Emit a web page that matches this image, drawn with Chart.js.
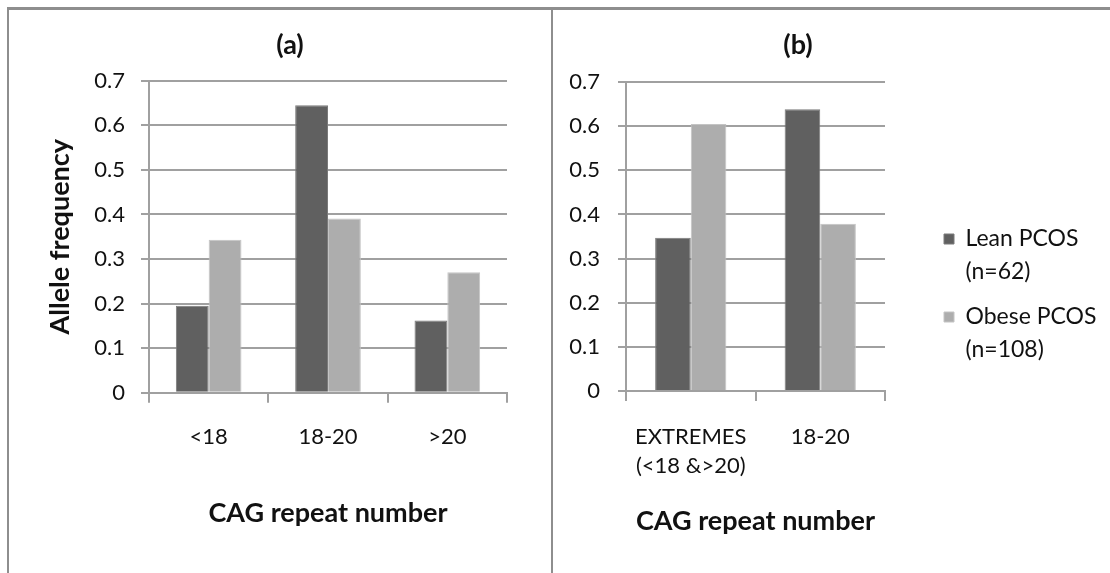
<!DOCTYPE html>
<html>
<head>
<meta charset="utf-8">
<script src="https://cdn.jsdelivr.net/npm/chart.js@4.4.1/dist/chart.umd.min.js"></script>
<style>
  html, body { margin: 0; padding: 0; background: #ffffff; }
  body { width: 1110px; height: 573px; position: relative; overflow: hidden; }
  .rule { position: absolute; background: #8e8e8e; }
  .frame-top { left: 7px; top: 7px; width: 1103px; height: 3px; }
  .frame-left { left: 7px; top: 7px; width: 2px; height: 566px; }
  .divider { left: 551px; top: 10px; width: 2px; height: 563px; }
  canvas { position: absolute; }
  #chartA { left: 12px; top: 10px; }
  #chartB { left: 556px; top: 10px; }
</style>
</head>
<body>
<div class="rule frame-top"></div>
<div class="rule frame-left"></div>
<div class="rule divider"></div>
<canvas id="chartA" width="540" height="560"></canvas>
<canvas id="chartB" width="554" height="560"></canvas>
<script>
// Series
const seriesNames = ['Lean PCOS', 'Obese PCOS'];
const groupSizes = ['(n=62)', '(n=108)'];
const seriesColors = ['#606060', '#adadad'];
const seriesEdges = ['#7a7a7a', '#c4c4c4'];

// Panel (a): three CAG repeat classes
const categoriesA = ['<18', '18-20', '>20'];
const leanA = [0.195, 0.645, 0.162];
const obeseA = [0.343, 0.391, 0.270];

// Panel (b): extremes pooled against the 18-20 class
const categoriesB = [['EXTREMES', '(<18 &>20)'], '18-20'];
const leanB = [0.347, 0.638];
const obeseB = [0.605, 0.379];

// Value axis
const yTickLabels = ['0', '0.1', '0.2', '0.3', '0.4', '0.5', '0.6', '0.7'];
const yMin = 0, yMax = 0.7, yStep = 0.1;

const FONT = 'Lato';
const TEXT = '#111111';
const GRID = '#a0a0a0';
const tickFont = { family: FONT, size: 22, lineHeight: 1.33 };
const boldFont = { family: FONT, size: 27, weight: 'bold', lineHeight: 1.2 };

// Panel heading drawn at a fixed spot on each canvas
const panelTitle = {
  id: 'panelTitle',
  afterDraw(chart, _args, opts) {
    const ctx = chart.ctx;
    ctx.save();
    ctx.font = `bold ${opts.size}px ${FONT}`;
    ctx.fillStyle = TEXT;
    ctx.textAlign = 'center';
    ctx.textBaseline = 'middle';
    ctx.fillText(opts.text, opts.x, opts.y);
    ctx.restore();
  }
};

function makeDatasets(lean, obese) {
  return [lean, obese].map((vals, i) => ({
    label: seriesNames[i] + ' ' + groupSizes[i],
    data: vals,
    backgroundColor: seriesColors[i],
    borderColor: seriesEdges[i],
    borderWidth: 1,
    categoryPercentage: 0.55,
    barPercentage: 1.0
  }));
}

function valueAxis(opts) {
  return {
    min: yMin,
    max: yMax,
    ticks: {
      stepSize: yStep,
      padding: opts.tickPad,
      color: TEXT,
      font: tickFont,
      callback: (v, i) => yTickLabels[i]
    },
    grid: { color: GRID, lineWidth: 2, tickLength: 8 },
    border: { color: GRID, width: 2 },
    title: opts.title,
    afterFit: s => { s.width = opts.width; }
  };
}

function categoryAxis(opts) {
  return {
    ticks: { padding: opts.tickPad, color: TEXT, font: tickFont, maxRotation: 0, autoSkip: false },
    grid: { offset: true, drawOnChartArea: false, color: GRID, lineWidth: 2, tickLength: 10 },
    border: { color: GRID, width: 2 },
    title: {
      display: true,
      text: 'CAG repeat number',
      color: TEXT,
      font: boldFont,
      padding: { top: 0, bottom: opts.titlePad }
    },
    afterFit: s => { s.height = opts.height; }
  };
}

const common = {
  responsive: false,
  animation: false,
  devicePixelRatio: 1,
  events: []
};

// Panel (a)
new Chart(document.getElementById('chartA'), {
  type: 'bar',
  data: { labels: categoriesA, datasets: makeDatasets(leanA, obeseA) },
  plugins: [panelTitle],
  options: {
    ...common,
    layout: { padding: { left: 0, right: 45, top: 70.7, bottom: 0 } },
    plugins: {
      legend: { display: false },
      tooltip: { enabled: false },
      panelTitle: { text: '(a)', x: 278, y: 35, size: 27 }
    },
    scales: {
      x: categoryAxis({ tickPad: 19.6, height: 177.3, titlePad: 40.8 }),
      y: valueAxis({
        tickPad: 16,
        width: 137,
        title: {
          display: true,
          text: 'Allele frequency',
          color: TEXT,
          font: boldFont,
          padding: { top: 32, bottom: 0 }
        }
      })
    }
  }
});

// Panel (b) with the shared legend on its right
const legendFontSize = 23;
const legendLine = 33;
const legendPad = 12;
const gapWidth = 47;        // blank strip between plot and legend
const rightBlock = 225;     // plot right edge to canvas right edge

const chartB = new Chart(document.getElementById('chartB'), {
  type: 'bar',
  data: { labels: categoriesB, datasets: makeDatasets(leanB, obeseB) },
  plugins: [panelTitle],
  options: {
    ...common,
    layout: { padding: { left: 0, right: 30, top: 72, bottom: 53 } },
    plugins: {
      tooltip: { enabled: false },
      panelTitle: { text: '(b)', x: 242, y: 35, size: 27 },
      legend: {
        display: true,
        position: 'right',
        align: 'center',
        maxWidth: 300,
        labels: {
          boxWidth: 10,
          boxHeight: 10,
          padding: legendPad,
          color: TEXT,
          font: { family: FONT, size: legendFontSize, lineHeight: legendLine / legendFontSize },
          generateLabels: chart => {
            const items = Chart.defaults.plugins.legend.labels.generateLabels(chart);
            items.forEach((it, i) => { it.text = [seriesNames[i], groupSizes[i]]; });
            return items;
          }
        }
      }
    },
    scales: {
      x: categoryAxis({ tickPad: 21.35, height: 126, titlePad: -20.2 }),
      y: valueAxis({ tickPad: 18, width: 70, title: { display: false } }),
      gap: {
        position: 'right',
        display: true,
        ticks: { display: false },
        grid: { display: false, drawTicks: false },
        border: { display: false },
        afterFit: s => { s.width = gapWidth; }
      }
    }
  }
});

// Fit the right padding to the legend's measured width so the plot keeps its width
chartB.options.layout.padding.right = rightBlock - gapWidth - chartB.legend.width;
chartB.update();
</script>
</body>
</html>
